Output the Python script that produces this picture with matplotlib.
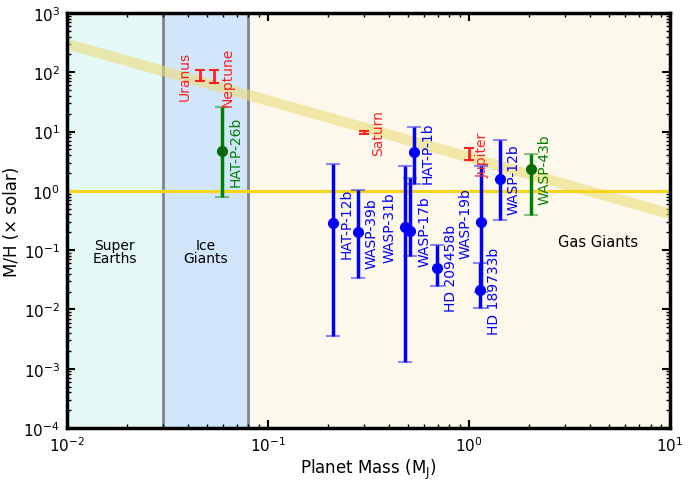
import matplotlib
matplotlib.use("Agg")
import matplotlib.pyplot as plt
import numpy as np

# exoplanets (blue) - mass in Jupiter masses, M/H in solar units
planets = ['HAT-P-12b', 'WASP-39b', 'WASP-31b', 'WASP-17b', 'HAT-P-1b',
           'HD 209458b', 'WASP-19b', 'HD 189733b', 'WASP-12b']
planet_mass = [0.21, 0.28, 0.48, 0.51, 0.53, 0.695, 1.15, 1.14, 1.42]
planet_mh = [0.287, 0.20, 0.249, 0.21, 4.47, 0.0506, 0.295, 0.021, 1.58]
planet_hi = [2.87, 1.02, 2.6, 1.67, 11.8, 0.122, 2.65, 0.0607, 7.3]
planet_lo = [0.0036, 0.0335, 0.0013, 0.081, 1.3, 0.0251, 0.02, 0.0104, 0.327]

# other exoplanets (green)
green_planets = ['HAT-P-26b', 'WASP-43b']
green_mass = [0.059, 2.03]
green_mh = [4.76, 2.34]
green_hi = [26.3, 4.19]
green_lo = [0.8, 0.396]

# solar system (red), ranges only
solar = ['Uranus', 'Neptune', 'Saturn', 'Jupiter']
solar_mass = [0.046, 0.054, 0.30, 1.0]
solar_hi = [109, 110, 10.4, 5.3]
solar_lo = [70.5, 67, 9.1, 3.3]

# solar-system trend band
trend_mass = [0.01, 10]
trend_mh = [300, 0.41]

# labels placed on the left of their bar
left_labels = ['Uranus', 'WASP-31b', 'WASP-19b']

fig = plt.figure(figsize=(6.9, 4.81), dpi=100)
ax = fig.add_axes([0.097, 0.108, 0.874, 0.863])
ax.set_xscale('log')
ax.set_yscale('log')
ax.set_xlim(1e-2, 1e1)
ax.set_ylim(1e-4, 1e3)

# mass regions
ax.axvspan(0.01, 0.03, color='#e4f8f6', zorder=0)
ax.axvspan(0.03, 0.08, color='#d2e6fb', zorder=0)
ax.axvspan(0.08, 10, color='#fdf8ec', zorder=0)
for xv in [0.03, 0.08]:
    ax.axvline(xv, color='#7d868c', lw=2, zorder=1)

ax.text(0.0173, 0.095, 'Super\nEarths', ha='center', va='center', fontsize=10, linespacing=0.9)
ax.text(0.049, 0.095, 'Ice\nGiants', ha='center', va='center', fontsize=10, linespacing=0.9)
ax.text(4.4, 0.14, 'Gas Giants', ha='center', va='center', fontsize=10.5)

ax.plot(trend_mass, trend_mh, color='#ecdc7a', alpha=0.6, lw=7.5, solid_capstyle='butt', zorder=2)
ax.axhline(1.0, color='#f7d51c', lw=2.2, zorder=2)


def draw(names, xs, ys, his, los, color, mcolor):
    for name, x, y, hi, lo in zip(names, xs, ys, his, los):
        if y is None:
            mid = np.sqrt(hi * lo)
            ax.errorbar([x], [mid], yerr=[[mid - lo], [hi - mid]], fmt='none',
                        ecolor=color, elinewidth=2, capsize=3.5, capthick=1.5, zorder=4)
            ylab = mid
        else:
            eb = ax.errorbar([x], [y], yerr=[[y - lo], [hi - y]], fmt='o', color=color,
                             mfc=mcolor, mec=mcolor, ms=7, elinewidth=2.5, capsize=5,
                             capthick=1.5, zorder=4)
            for c in eb[1]:
                c.set_alpha(0.45)
            ylab = y
        off = -11 if name in left_labels else 10
        ax.annotate(name, (x, ylab), xytext=(off, 0), textcoords='offset points',
                    rotation=90, ha='center', va='center', color=color, fontsize=10, zorder=5)


draw(planets, planet_mass, planet_mh, planet_hi, planet_lo, 'blue', 'blue')
draw(green_planets, green_mass, green_mh, green_hi, green_lo, 'green', '#0a6a0a')
draw(solar, solar_mass, [None] * len(solar), solar_hi, solar_lo, '#ff2020', '#ff2020')

ax.set_xlabel('Planet Mass (M$_\\mathrm{J}$)', fontsize=12, labelpad=2)
ax.set_ylabel('M/H (× solar)', fontsize=12, labelpad=2)
ax.tick_params(which='both', direction='in', top=True, right=True, labelsize=11)
ax.tick_params(which='major', length=6, width=1.5, pad=5)
ax.tick_params(which='minor', length=3, width=1)
ax.yaxis.set_major_locator(matplotlib.ticker.LogLocator(base=10, numticks=10))
for s in ax.spines.values():
    s.set_linewidth(2.5)

fig.savefig('out.png', dpi=100)
